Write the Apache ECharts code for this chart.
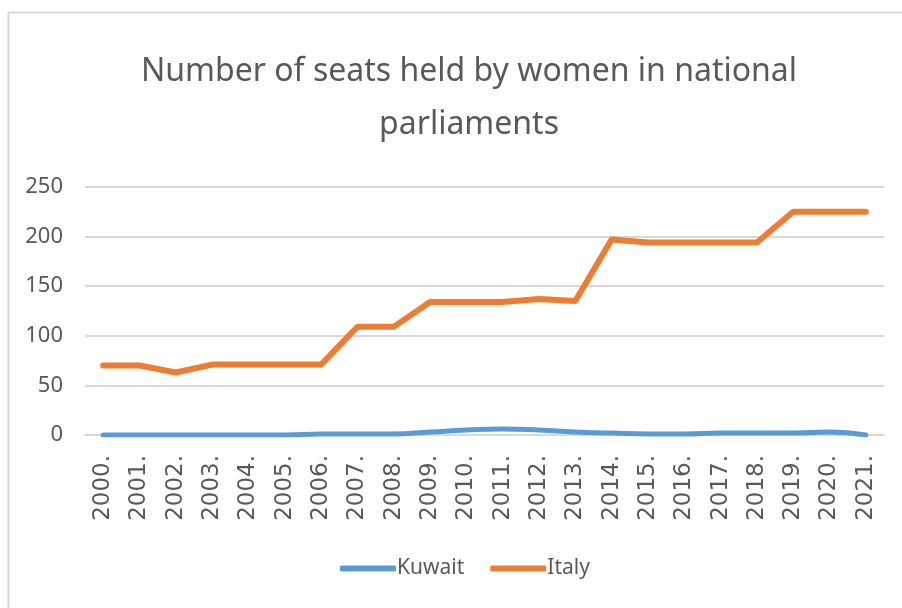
<!DOCTYPE html>
<html lang="en">
<head>
  <meta charset="utf-8">
  <title>Women in national parliaments</title>
  <script src="https://cdn.jsdelivr.net/npm/echarts@6/dist/echarts.min.js"></script>
  <style>
    html, body { margin: 0; padding: 0; background: #fff; }
    #main { width: 902px; height: 608px; }
  </style>
</head>
<body>
  <div id="main"></div>
  <script>
    // data
    var years = ['2000.', '2001.', '2002.', '2003.', '2004.', '2005.', '2006.', '2007.', '2008.', '2009.', '2010.',
                 '2011.', '2012.', '2013.', '2014.', '2015.', '2016.', '2017.', '2018.', '2019.', '2020.', '2021.'];
    var kuwait = [0, 0, 0, 0, 0, 0, 1, 1, 1, 3, 5, 6, 5, 3, 2, 1, 1, 2, 2, 2, 3, 0];
    var italy  = [70, 70, 63, 71, 71, 71, 71, 109, 109, 134, 134, 134, 137, 135, 197, 194, 194, 194, 194, 225, 225, 225];
    var yTicks = [0, 50, 100, 150, 200, 250];

    var txt = '#595959';
    var font = 'Noto Sans';
    var wide = 'DejaVu Sans';

    var myChart = echarts.init(document.getElementById('main'));
    var option = {
      backgroundColor: '#fff',
      animation: false,
      graphic: [{
        type: 'rect',
        shape: { x: 8.5, y: 12.5, width: 910, height: 620 },
        style: { fill: 'none', stroke: '#d9d9d9', lineWidth: 2 },
        silent: true
      }],
      title: {
        text: 'Number of seats held by women in national\nparliaments',
        left: 464,
        textAlign: 'center',
        top: 40,
        textStyle: {
          fontFamily: font,
          fontSize: 32,
          fontWeight: 'normal',
          color: txt,
          lineHeight: 53
        }
      },
      legend: {
        bottom: 24,
        left: 335,
        itemWidth: 56,
        itemHeight: 6,
        itemGap: 26,
        icon: 'roundRect',
        textStyle: { fontFamily: font, fontSize: 21, color: txt, padding: [0, 0, 0, -4] },
        data: ['Kuwait', 'Italy']
      },
      grid: {
        left: 85,
        right: 18,
        top: 187,
        bottom: 173
      },
      xAxis: {
        type: 'category',
        data: years,
        boundaryGap: true,
        axisLine: { show: true, lineStyle: { color: '#d9d9d9', width: 2 } },
        axisTick: { show: false },
        axisLabel: {
          rotate: 90,
          interval: 0,
          margin: 20,
          fontFamily: wide,
          fontSize: 23,
          color: txt
        }
      },
      yAxis: {
        type: 'value',
        min: yTicks[0],
        max: yTicks[yTicks.length - 1],
        interval: 50,
        axisLine: { show: false },
        axisTick: { show: false },
        splitLine: { lineStyle: { color: '#d9d9d9', width: 2 } },
        axisLabel: {
          margin: 22,
          fontFamily: font,
          fontSize: 22,
          color: txt
        }
      },
      series: [{
        name: 'Kuwait',
        type: 'line',
        data: kuwait,
        smooth: 0.5,
        symbol: 'none',
        color: '#5b9bd5',
        lineStyle: { width: 5, color: '#5b9bd5', cap: 'round', join: 'round' }
      }, {
        name: 'Italy',
        type: 'line',
        data: italy,
        symbol: 'none',
        color: '#ed7d31',
        lineStyle: { width: 6, color: '#ed7d31', cap: 'round', join: 'round' }
      }]
    };
    myChart.setOption(option);
  </script>
</body>
</html>
